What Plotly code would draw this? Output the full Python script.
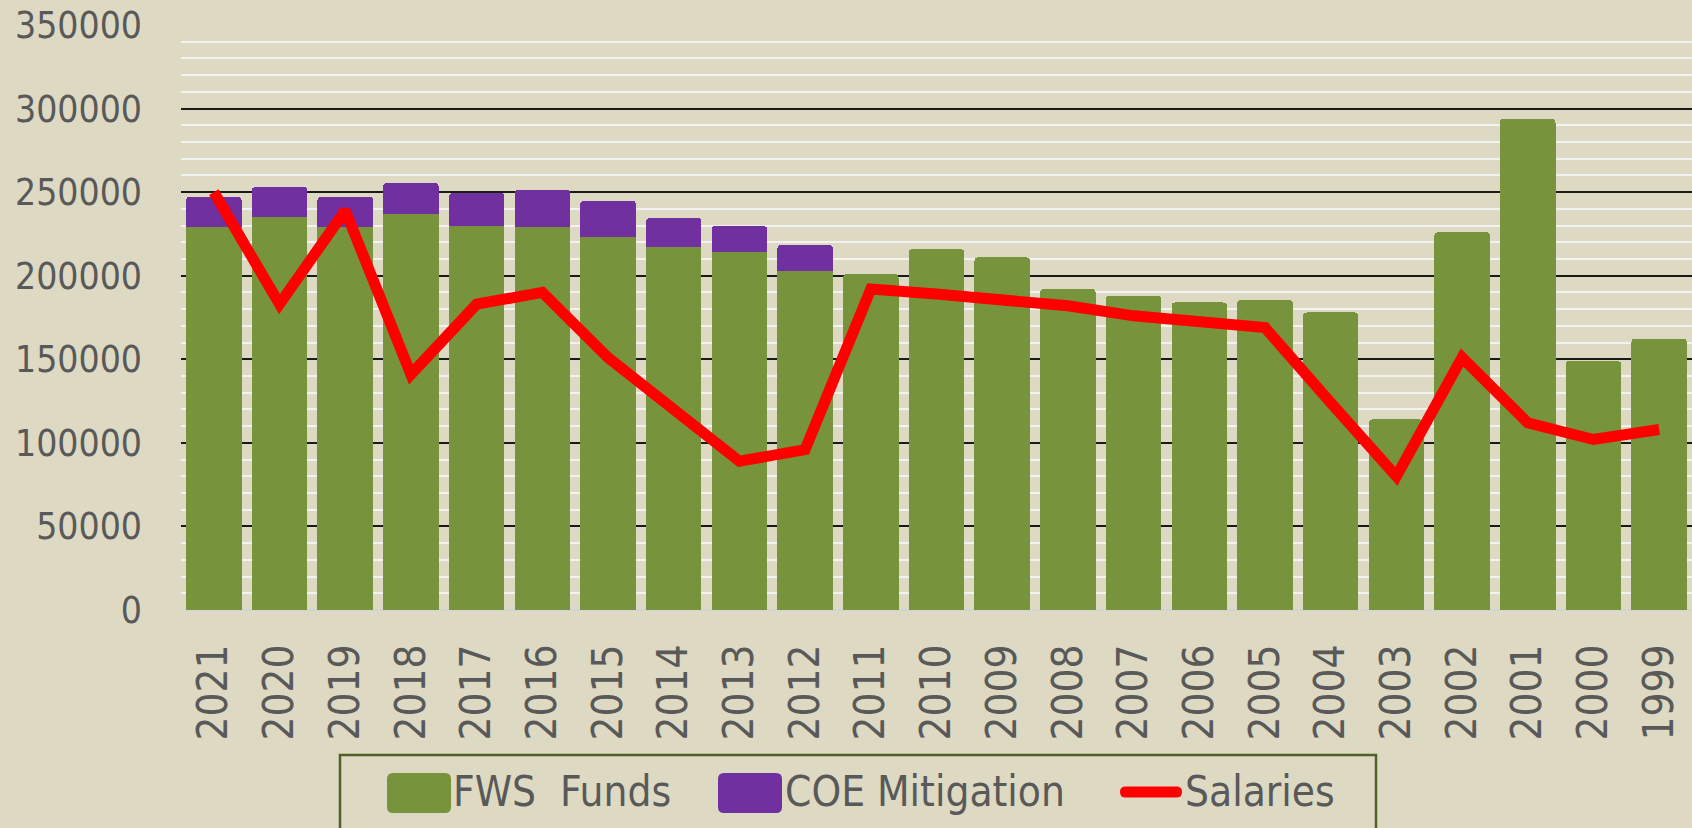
import plotly.graph_objects as go

# ---- data -------------------------------------------------------------
years = ["2021", "2020", "2019", "2018", "2017", "2016", "2015", "2014",
         "2013", "2012", "2011", "2010", "2009", "2008", "2007", "2006",
         "2005", "2004", "2003", "2002", "2001", "2000", "1999"]

fws_funds = [229000, 235000, 229000, 237000, 230000, 229000, 223000, 217000,
             214000, 203000, 201000, 216000, 211000, 192000, 188000, 184000,
             185500, 178000, 114000, 226000, 294000, 149000, 162400]

coe_mitigation = [18300, 18100, 18300, 18500, 19500, 22500, 21900, 17600,
                  15800, 15500, None, None, None, None, None, None,
                  None, None, None, None, None, None, None]

salaries = [250000, 183000, 239000, 141000, 183000, 190000, 151000, 120000,
            89000, 96000, 192000, 189000, 186000, 182000, 176000, 172000,
            169000, 124000, 80000, 151000, 112000, 102000, 108000]

y_ticks = [0, 50000, 100000, 150000, 200000, 250000, 300000, 350000]

# ---- style ------------------------------------------------------------
BG = "#DDD9C3"
GREEN = "#77933C"
PURPLE = "#7030A0"
RED = "#FF0000"
TEXT = "#595959"
BORDER = "#4F6228"
FONT = "DejaVu Sans Condensed, DejaVu Sans, sans-serif"

W, H = 1692, 828
M_L, M_R, M_T, M_B = 181, 0, 25, 218

fig = go.Figure()
fig.add_bar(x=years, y=fws_funds, name="FWS  Funds",
            marker=dict(color=GREEN, cornerradius=4, line=dict(width=0)))
fig.add_bar(x=years, y=coe_mitigation, name="COE Mitigation",
            marker=dict(color=PURPLE, cornerradius=4, line=dict(width=0)))
fig.add_scatter(x=years, y=salaries, name="Salaries", mode="lines",
                line=dict(color=RED, width=11))

fig.update_layout(
    width=W, height=H,
    margin=dict(l=M_L, r=M_R, t=M_T, b=M_B, pad=0),
    paper_bgcolor=BG, plot_bgcolor=BG,
    barmode="stack", bargap=0.155,
    showlegend=False,
    font=dict(family=FONT, color=TEXT),
)

fig.update_yaxes(
    range=[0, 350000], tickvals=y_ticks, tickformat="d",
    tickfont=dict(size=37, color=TEXT, family=FONT),
    showgrid=True, gridcolor="#1A1A1A", gridwidth=2,
    minor=dict(dtick=10000, showgrid=True, gridcolor="#F2F2F2", gridwidth=2),
    zeroline=True, zerolinecolor="#D4D4D4", zerolinewidth=2,
    showline=False, ticks="", ticklabelstandoff=38,
)
fig.update_xaxes(
    type="category", tickangle=-90,
    tickfont=dict(size=42, color=TEXT, family=FONT),
    showgrid=False, showline=False, ticks="", ticklabelstandoff=25,
)

# ---- legend box drawn in page pixels ----------------------------------
plot_w = W - M_L - M_R
plot_h = H - M_T - M_B


def px_x(px):
    return (px - M_L) / plot_w


def px_y(py):
    return (H - M_B - py) / plot_h


def rounded_rect(x0, y0, x1, y1, r):
    X0, X1 = px_x(x0), px_x(x1)
    Y0, Y1 = px_y(y0), px_y(y1)
    rx, ry = r / plot_w, r / plot_h
    return (f"M {X0 + rx},{Y0} L {X1 - rx},{Y0} Q {X1},{Y0} {X1},{Y0 - ry} "
            f"L {X1},{Y1 + ry} Q {X1},{Y1} {X1 - rx},{Y1} L {X0 + rx},{Y1} "
            f"Q {X0},{Y1} {X0},{Y1 + ry} L {X0},{Y0 - ry} Q {X0},{Y0} {X0 + rx},{Y0} Z")


shapes = [
    dict(type="rect", xref="paper", yref="paper",
         x0=px_x(340), x1=px_x(1376), y0=px_y(755), y1=px_y(845),
         line=dict(color=BORDER, width=2.5), fillcolor="rgba(0,0,0,0)"),
    dict(type="path", xref="paper", yref="paper",
         path=rounded_rect(387, 773, 451, 813, 6),
         fillcolor=GREEN, line=dict(width=0)),
    dict(type="path", xref="paper", yref="paper",
         path=rounded_rect(718, 773, 782, 813, 6),
         fillcolor=PURPLE, line=dict(width=0)),
    dict(type="path", xref="paper", yref="paper",
         path=rounded_rect(1120, 786.5, 1182, 797.5, 5.5),
         fillcolor=RED, line=dict(width=0)),
]

legend_items = [("FWS  Funds", 451), ("COE Mitigation", 783), ("Salaries", 1183)]
annotations = [
    dict(text=label, xref="paper", yref="paper", x=px_x(x), y=px_y(791),
         xanchor="left", yanchor="middle", showarrow=False,
         font=dict(size=42, color=TEXT, family=FONT))
    for label, x in legend_items
]

fig.update_layout(shapes=shapes, annotations=annotations)

fig.write_html("out.html", config=dict(displayModeBar=False))
